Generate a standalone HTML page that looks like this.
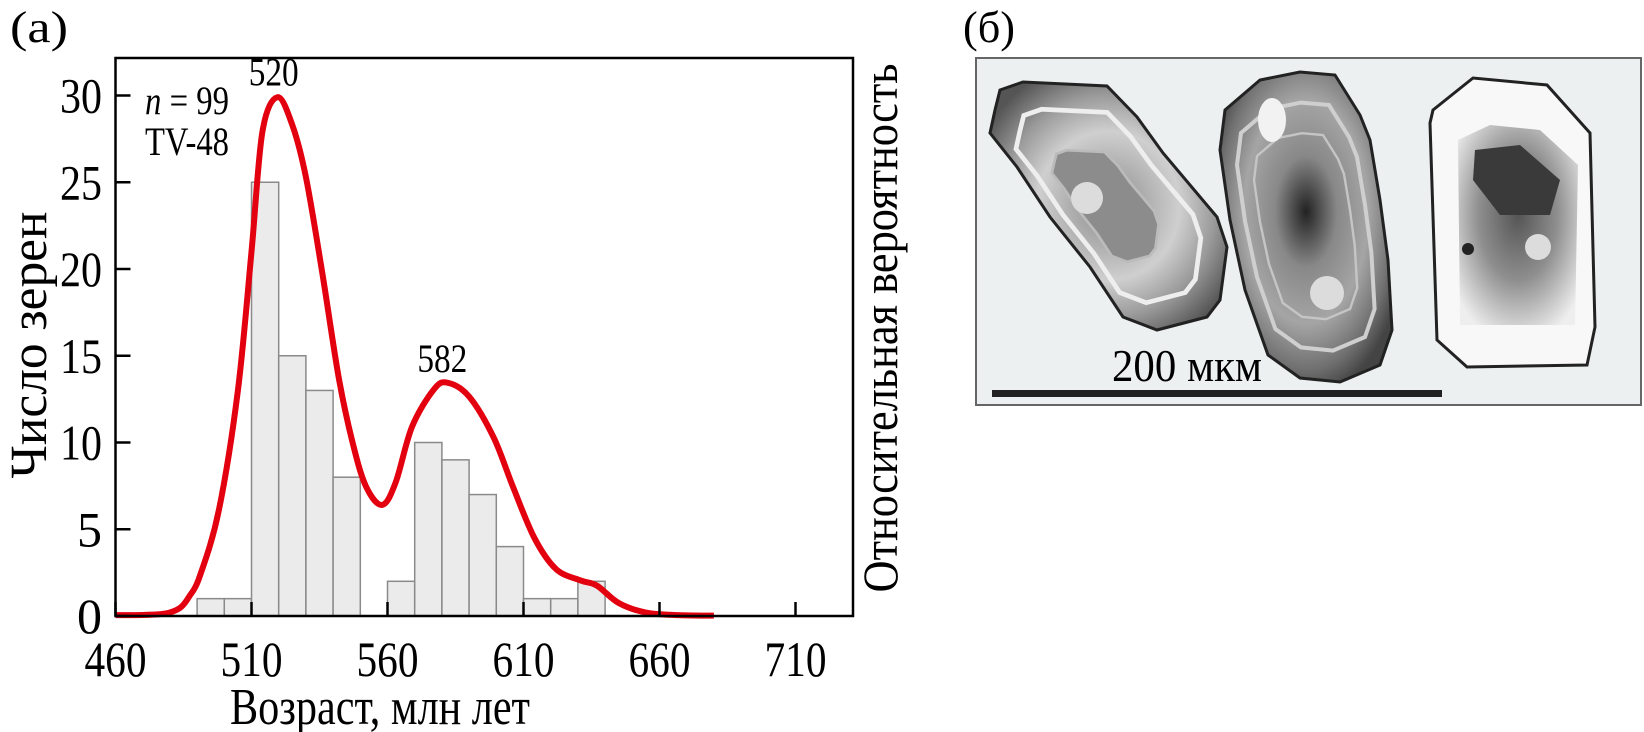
<!DOCTYPE html>
<html><head><meta charset="utf-8">
<style>
html,body{margin:0;padding:0;background:#fff;}
svg{display:block;font-family:"Liberation Serif",serif;}
</style></head>
<body>
<svg id="fig" width="1644" height="732" viewBox="0 0 1644 732" xmlns="http://www.w3.org/2000/svg">
  <text x="10" y="42" font-size="44" textLength="58" lengthAdjust="spacingAndGlyphs">(а)</text>
  <g id="chart"></g>
  <text transform="translate(46,345) rotate(-90)" text-anchor="middle" font-size="52" textLength="267" lengthAdjust="spacingAndGlyphs">Число зерен</text>
  <text transform="translate(897,328) rotate(-90)" text-anchor="middle" font-size="50" textLength="529" lengthAdjust="spacingAndGlyphs">Относительная вероятность</text>
  <text x="380" y="724" text-anchor="middle" font-size="52" textLength="300" lengthAdjust="spacingAndGlyphs">Возраст, млн лет</text>
  <text x="145" y="114" font-size="40" textLength="84" lengthAdjust="spacingAndGlyphs"><tspan font-style="italic">n</tspan> = 99</text>
  <text x="145" y="155" font-size="40" textLength="84" lengthAdjust="spacingAndGlyphs">TV-48</text>

  <text x="963" y="42" font-size="44" textLength="52" lengthAdjust="spacingAndGlyphs">(б)</text>
  <g>
    <defs>
      <radialGradient id="g1" cx="50%" cy="50%" r="60%">
        <stop offset="0" stop-color="#8a8a8a"/><stop offset="0.5" stop-color="#cfcfcf"/><stop offset="0.75" stop-color="#9a9a9a"/><stop offset="1" stop-color="#555"/>
      </radialGradient>
      <radialGradient id="g2" cx="50%" cy="45%" r="60%">
        <stop offset="0" stop-color="#222"/><stop offset="0.3" stop-color="#888"/><stop offset="0.6" stop-color="#a5a5a5"/><stop offset="0.85" stop-color="#707070"/><stop offset="1" stop-color="#444"/>
      </radialGradient>
      <radialGradient id="g3" cx="50%" cy="45%" r="65%">
        <stop offset="0" stop-color="#555"/><stop offset="0.5" stop-color="#8e8e8e"/><stop offset="0.8" stop-color="#c8c8c8"/><stop offset="1" stop-color="#eee"/>
      </radialGradient>
    </defs>
    <rect x="976" y="58" width="665" height="347" fill="#ecf0f1" stroke="#666" stroke-width="2"/>
    <g>
      <polygon points="1000,90 1023,82 1107,86 1137,117 1163,153 1217,217 1227,247 1220,300 1207,317 1157,330 1123,317 1090,267 1050,217 1017,167 990,133 995,110" fill="url(#g1)" stroke="#222" stroke-width="3"/>
      <polygon points="1000,90 1023,82 1107,86 1137,117 1163,153 1217,217 1227,247 1220,300 1207,317 1157,330 1123,317 1090,267 1050,217 1017,167 990,133 995,110" fill="none" stroke="#eee" stroke-width="6" transform="translate(1108,206) scale(0.78) translate(-1108,-206)"/>
      <polygon points="1000,90 1023,82 1107,86 1137,117 1163,153 1217,217 1227,247 1220,300 1207,317 1157,330 1123,317 1090,267 1050,217 1017,167 990,133 995,110" fill="#8c8c8c" stroke="#bbb" stroke-width="6" transform="translate(1105,206) scale(0.45) translate(-1108,-206)"/>
      <circle cx="1087" cy="198" r="16" fill="#dcdcdc"/>
    </g>
    <g>
      <polygon points="1225,110 1260,80 1300,72 1335,75 1360,115 1370,140 1380,200 1388,260 1392,330 1380,365 1340,382 1300,378 1268,355 1245,290 1230,220 1220,150" fill="url(#g2)" stroke="#222" stroke-width="3"/>
      <polygon points="1225,110 1260,80 1300,72 1335,75 1360,115 1370,140 1380,200 1388,260 1392,330 1380,365 1340,382 1300,378 1268,355 1245,290 1230,220 1220,150" fill="none" stroke="#cfcfcf" stroke-width="5" transform="translate(1305,225) scale(0.8) translate(-1305,-225)"/>
      <polygon points="1225,110 1260,80 1300,72 1335,75 1360,115 1370,140 1380,200 1388,260 1392,330 1380,365 1340,382 1300,378 1268,355 1245,290 1230,220 1220,150" fill="none" stroke="#c5c5c5" stroke-width="4" transform="translate(1305,225) scale(0.6) translate(-1305,-225)"/>
      <ellipse cx="1272" cy="120" rx="14" ry="22" fill="#f2f2f2"/>
      <circle cx="1327" cy="293" r="17" fill="#dcdcdc"/>
    </g>
    <g>
      <polygon points="1433,110 1473,78 1547,85 1590,133 1595,327 1587,365 1467,367 1437,340 1430,123" fill="#f8f8f8" stroke="#222" stroke-width="3"/>
      <polygon points="1458,140 1490,125 1540,130 1578,165 1575,325 1460,325" fill="url(#g3)"/>
      <polygon points="1475,150 1520,145 1560,180 1550,215 1500,215 1473,180" fill="#3a3a3a"/>
      <circle cx="1468" cy="249" r="6" fill="#222"/>
      <circle cx="1538" cy="247" r="13" fill="#dcdcdc"/>
    </g>
    <rect x="992" y="390" width="450" height="7" fill="#222"/>
    <text x="1112" y="381" font-size="46" textLength="150" lengthAdjust="spacingAndGlyphs">200 мкм</text>
  </g>
</svg>
<script>
// ---- data ----
const binStarts = [490,500,510,520,530,540,550,560,570,580,590,600,610,620,630];
const binCounts = [1,1,25,15,13,8,0,2,10,9,7,4,1,1,2];
const curveAges = [460,470,476,480,484,487,491,498,505,510,514,519.5,525,530,536,542,547,552,558,563,569,577,582,590,599,606,614,622,631,637,645,655,667,680];
const curveValues = [0.05,0.06,0.1,0.2,0.5,1.1,2.3,6.1,13.0,21.0,27.9,29.9,28.3,25.3,19.8,13.8,10.1,7.5,6.4,7.7,10.9,13.05,13.45,12.65,10.3,7.5,4.5,2.7,2.05,1.75,0.75,0.2,0.05,0.02];
const xTicks = [460,510,560,610,660,710];
const yTicks = [0,5,10,15,20,25,30];
const peakLabels = ["520","582"];
const peakAges = [520,582];
const peakValues = [30,13.5];

const NS = "http://www.w3.org/2000/svg";
const L = 115.5, R = 853, T = 58, B = 616;
const xs = a => L + (a - 460) * 2.72;
const ys = v => B - v * 17.35;
const g = document.getElementById('chart');
function mk(tag, attrs, parent) {
  const e = document.createElementNS(NS, tag);
  for (const k in attrs) e.setAttribute(k, attrs[k]);
  (parent || g).appendChild(e);
  return e;
}
binStarts.forEach((s, i) => {
  if (binCounts[i] <= 0) return;
  const r = mk('rect', {x: xs(s), y: ys(binCounts[i]), width: xs(s + 10) - xs(s), height: B - ys(binCounts[i]), fill: '#ebebeb', stroke: '#8a8a8a', 'stroke-width': 1.5});
  
  
});
const pts = curveAges.map((a, i) => [xs(a), ys(curveValues[i])]);
let d = 'M' + pts[0][0] + ',' + pts[0][1];
for (let i = 0; i < pts.length - 1; i++) {
  const p0 = pts[Math.max(0, i - 1)], p1 = pts[i], p2 = pts[i + 1], p3 = pts[Math.min(pts.length - 1, i + 2)];
  const c1 = [p1[0] + (p2[0] - p0[0]) / 6, p1[1] + (p2[1] - p0[1]) / 6];
  const c2 = [p2[0] - (p3[0] - p1[0]) / 6, p2[1] - (p3[1] - p1[1]) / 6];
  d += ' C' + c1 + ' ' + c2 + ' ' + p2;
}
const curve = mk('path', {d: d, fill: 'none', stroke: '#e3000f', 'stroke-width': 6, 'stroke-linejoin': 'round'});


const fr = mk('rect', {x: L, y: T, width: R - L, height: B - T, fill: 'none', stroke: '#000', 'stroke-width': 2.5});


xTicks.forEach(t => {
  const tk = mk('line', {x1: xs(t), x2: xs(t), y1: B, y2: B - 14, stroke: '#000', 'stroke-width': 2.5});
  
  
  const lb = mk('text', {x: xs(t), y: 676, 'text-anchor': 'middle', 'font-size': 50, textLength: 62, lengthAdjust: 'spacingAndGlyphs'});
  lb.textContent = t;
  
  
});
yTicks.forEach(t => {
  const tk = mk('line', {x1: L, x2: L + 15, y1: ys(t), y2: ys(t), stroke: '#000', 'stroke-width': 2.5});
  
  
  const attrs = {x: 102, y: ys(t) + 17, 'text-anchor': 'end', 'font-size': 50};
  if (String(t).length === 2) { attrs.textLength = 42; attrs.lengthAdjust = 'spacingAndGlyphs'; }
  const lb = mk('text', attrs);
  lb.textContent = t;
  
  
});
peakLabels.forEach((s, i) => {
  const lb = mk('text', {x: xs(peakAges[i]) - 5, y: ys(peakValues[i]) - 10, 'text-anchor': 'middle', 'font-size': 40, textLength: 50, lengthAdjust: 'spacingAndGlyphs'});
  lb.textContent = s;
  
  
});
</script>
</body></html>
